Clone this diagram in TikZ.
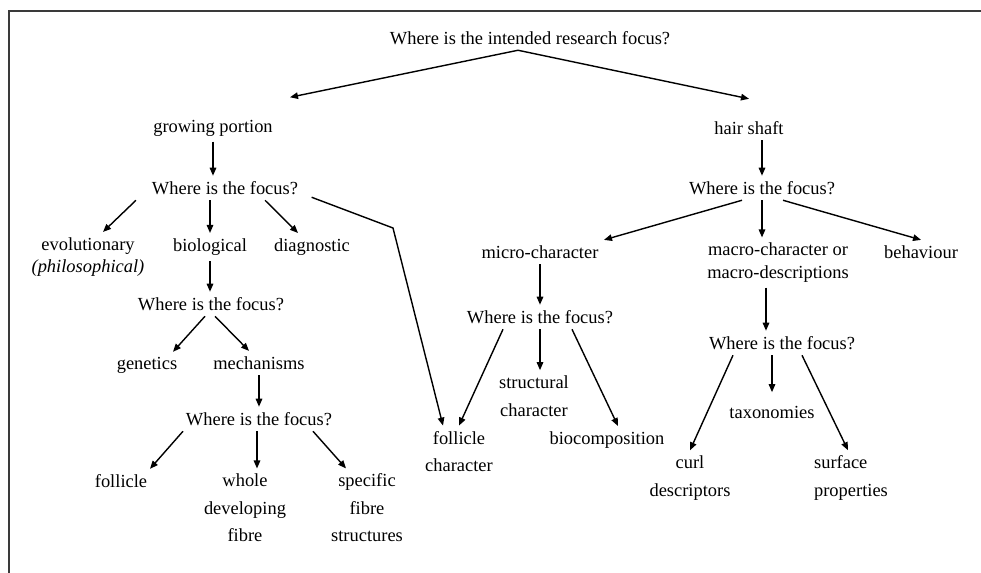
\documentclass[tikz,border=0pt]{standalone}
\usepackage{fontspec}
\setmainfont{Liberation Serif}
\usepackage{tikz}
\usetikzlibrary{arrows.meta}
\definecolor{frame}{HTML}{3A3A3A}

\begin{document}
\begin{tikzpicture}[
  txt/.style={inner sep=3pt, align=center, font=\fontsize{10.5}{12.6}\selectfont},
  question/.style={txt},
  arr/.style={line width=0.8pt, -{Triangle[length=1.6mm, width=1.3mm]}},
]

\useasboundingbox (0, 0) rectangle (19.62, -11.46);
\draw[line width=1pt, frame] (0.18, -11.46) -- (0.18, -0.22) -- (19.62, -0.22);

\node[question] (root) at (10.60, -0.76) {Where is the intended research focus?};

\node[txt] (grow) at (4.26, -2.56) {growing portion};
\node[txt] (hair) at (14.98, -2.56) {hair shaft};

\node[question] (wf1) at (4.50, -3.76) {Where is the focus?};
\node[txt] (evo) at (1.76, -5.14) {evolutionary\\\textit{(philosophical)}};
\node[txt] (bio) at (4.20, -4.94) {biological};
\node[txt] (diag) at (6.24, -4.94) {diagnostic};

\node[question] (wf2) at (4.22, -6.08) {Where is the focus?};
\node[txt] (gen) at (2.94, -7.31) {genetics};
\node[txt] (mech) at (5.18, -7.26) {mechanisms};

\node[question] (wf3) at (5.18, -8.38) {Where is the focus?};
\node[txt] (foll) at (2.42, -9.62) {follicle};
\node[txt] (whole) at (4.90, -10.16) {whole\\[3pt]developing\\[3pt]fibre};
\node[txt] (spec) at (7.34, -10.16) {specific\\[3pt]fibre\\[3pt]structures};

\node[txt] (fchar) at (9.18, -9.03) {follicle\\[3pt]character};

\node[question] (wfR) at (15.24, -3.76) {Where is the focus?};
\node[txt] (micro) at (10.80, -5.04) {micro-character};
\node[txt] (macro) at (15.56, -5.25) {macro-character or\\macro-descriptions};
\node[txt] (behav) at (18.42, -5.04) {behaviour};

\node[question] (wfM) at (10.80, -6.34) {Where is the focus?};
\node[txt] (struct) at (10.68, -7.92) {structural\\[3pt]character};
\node[txt] (bioc) at (12.14, -8.80) {biocomposition};

\node[question] (wfMA) at (15.64, -6.86) {Where is the focus?};
\node[txt] (tax) at (15.44, -8.24) {taxonomies};
\node[txt] (curl) at (13.80, -9.56) {curl\\[3pt]descriptors};
\node[txt, align=left] (surf) at (17.02, -9.56) {surface\\[3pt]properties};

\coordinate (bend) at (7.86, -4.56);

\draw[arr] ([xshift=-0.24cm]root.south) -- ([shift={(1.54, 0.34)}]grow.north);
\draw[arr] ([xshift=-0.24cm]root.south) -- ([yshift=0.34cm]hair.north);

\draw[arr] (grow.south) -- (grow.south |- wf1.north);
\draw[arr] ([xshift=-1.78cm]wf1.south) -- ([xshift=0.3cm]evo.north);
\draw[arr] (wf1.south -| bio.north) -- (bio.north);
\draw[arr] ([xshift=0.8cm]wf1.south) -- ([xshift=-0.28cm]diag.north);
\draw[arr] ([xshift=0.16cm, yshift=0.06cm]wf1.south east) -- (bend) -- ([xshift=-0.32cm]fchar.north);

\draw[arr] (bio.south) -- (bio.south |- wf2.north);
\draw[arr] ([xshift=-0.12cm]wf2.south) -- ([xshift=0.52cm]gen.north);
\draw[arr] ([xshift=0.08cm]wf2.south) -- ([xshift=-0.2cm]mech.north);

\draw[arr] (mech.south) -- (mech.south |- wf3.north);
\draw[arr] ([xshift=-1.52cm]wf3.south) -- ([xshift=0.58cm]foll.north);
\draw[arr] ([xshift=-0.04cm]wf3.south) -- ([xshift=-0.04cm]wf3.south |- whole.north);
\draw[arr] ([xshift=1.08cm]wf3.south) -- ([xshift=-0.42cm]spec.north);

\draw[arr] (wfR.north |- hair.south) -- (wfR.north);
\draw[arr] ([xshift=-0.4cm]wfR.south) -- ([xshift=1.28cm]micro.north);
\draw[arr] (wfR.south) -- (wfR.south |- macro.north);
\draw[arr] ([xshift=0.42cm]wfR.south) -- (behav.north);

\draw[arr] (micro.south) -- (wfM.north);
\draw[arr] ([xshift=-0.74cm]wfM.south) -- (fchar.north);
\draw[arr] (wfM.south) -- (wfM.south |- struct.north);
\draw[arr] ([xshift=0.64cm]wfM.south) -- ([xshift=0.22cm]bioc.north);

\draw[arr] ([xshift=-0.24cm]macro.south) -- ([xshift=-0.24cm]macro.south |- wfMA.north);
\draw[arr] ([xshift=-0.98cm]wfMA.south) -- (curl.north);
\draw[arr] (wfMA.south -| tax.north) -- ([yshift=0.16cm]tax.north);
\draw[arr] ([xshift=0.4cm]wfMA.south) -- ([xshift=-0.06cm]surf.north);

\end{tikzpicture}
\end{document}
